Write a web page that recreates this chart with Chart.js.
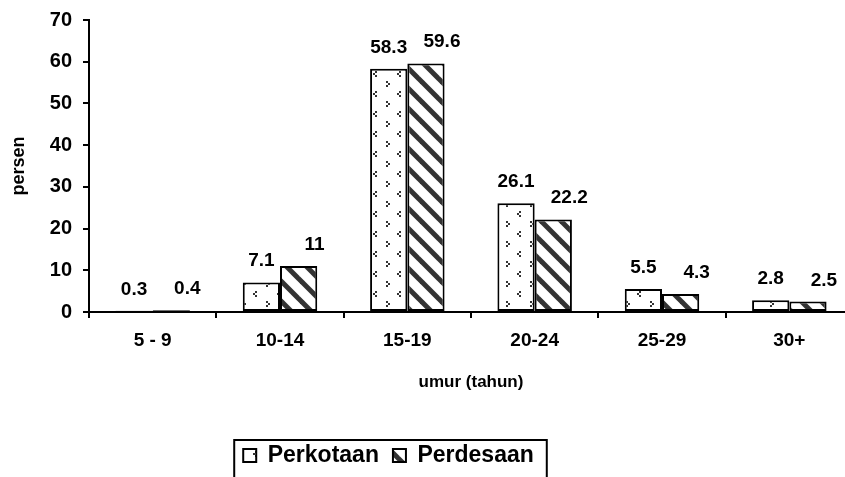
<!DOCTYPE html>
<html>
<head>
<meta charset="utf-8">
<script src="https://cdn.jsdelivr.net/npm/chart.js@4.4.1/dist/chart.umd.min.js"></script>
<style>
  html, body { margin: 0; padding: 0; background: #fff; overflow: hidden; }
  #wrap { width: 845px; height: 477px; overflow: hidden; position: relative; }
  canvas { display: block; }
</style>
</head>
<body>
<div id="wrap"><canvas id="c" width="860" height="477"></canvas></div>
<script>
// data
var AGE_GROUPS = ['5 - 9', '10-14', '15-19', '20-24', '25-29', '30+'];
var PERKOTAAN  = [0.3, 7.1, 58.3, 26.1, 5.5, 2.8];
var PERDESAAN  = [0.4, 11, 59.6, 22.2, 4.3, 2.5];
var Y_TICKS    = [0, 10, 20, 30, 40, 50, 60, 70];

var FONT = "'Liberation Sans', Arial, sans-serif";

// sparse "< >" mark pattern (Perkotaan)
function dotPattern(ctx) {
  var t = document.createElement('canvas');
  t.width = 24; t.height = 20;
  var g = t.getContext('2d');
  g.fillStyle = '#fff'; g.fillRect(0, 0, 24, 20);
  g.fillStyle = '#333';
  // "<"
  g.fillRect(15, 11, 2, 2); g.fillRect(13, 13, 2, 2); g.fillRect(15, 15, 2, 2);
  // ">"
  g.fillRect(2, 1, 2, 2); g.fillRect(4, 3, 2, 2); g.fillRect(2, 5, 2, 2);
  return ctx.createPattern(t, 'repeat');
}

// thick backslash stripes (Perdesaan)
function stripePattern(ctx) {
  var t = document.createElement('canvas');
  t.width = 20; t.height = 20;
  var g = t.getContext('2d');
  g.fillStyle = '#fff'; g.fillRect(0, 0, 20, 20);
  g.strokeStyle = '#333'; g.lineWidth = 5;
  for (var k = -1; k <= 1; k++) {
    g.beginPath();
    g.moveTo(-5, -5 + 20 * k); g.lineTo(25, 25 + 20 * k);
    g.stroke();
  }
  return ctx.createPattern(t, 'repeat');
}

Chart.defaults.font.family = FONT;
Chart.defaults.font.weight = 'bold';
Chart.defaults.color = '#000';

var canvas = document.getElementById('c');
var ctx = canvas.getContext('2d');
var CANVAS_H = 477, PLOT_BOTTOM = 312;

// value labels above each bar
var valueLabels = {
  id: 'valueLabels',
  afterDatasetsDraw: function (chart) {
    var c = chart.ctx;
    c.save();
    c.font = 'bold 19px ' + FONT;
    c.fillStyle = '#000';
    c.textAlign = 'center';
    c.textBaseline = 'alphabetic';
    chart.data.datasets.forEach(function (ds, di) {
      var meta = chart.getDatasetMeta(di);
      meta.data.forEach(function (bar, i) {
        var dx = di === 1 ? 16 : 0;
        c.fillText(String(ds.data[i]), bar.x + dx, bar.y - 16);
      });
    });
    c.restore();
  }
};

// shift the legend left and frame it like the original
var legendFrame = {
  id: 'legendFrame',
  afterLayout: function (chart) {
    var lg = chart.legend;
    lg.left -= 38; lg.right -= 38;
  },
  afterDraw: function (chart) {
    var lg = chart.legend;
    if (!lg || !lg.lineWidths) return;
    var p = lg.options.labels.padding;
    var lw = lg.lineWidths[0];
    var x0 = (lg.left + p + lg.right - lw) / 2;
    var c = chart.ctx;
    c.save();
    c.strokeStyle = '#000';
    c.lineWidth = 2;
    c.strokeRect(x0 - 9, lg.top + 10, (lw - p) + 22, 60);
    c.restore();
  }
};

new Chart(ctx, {
  type: 'bar',
  data: {
    labels: AGE_GROUPS,
    datasets: [
      { label: 'Perkotaan', data: PERKOTAAN, backgroundColor: dotPattern(ctx),
        borderColor: '#000', borderWidth: 2, borderSkipped: false },
      { label: 'Perdesaan', data: PERDESAAN, backgroundColor: stripePattern(ctx),
        borderColor: '#000', borderWidth: 2, borderSkipped: false }
    ]
  },
  options: {
    responsive: false,
    animation: false,
    devicePixelRatio: 1,
    layout: { padding: { left: 0, right: 7, top: 20, bottom: 0 } },
    datasets: { bar: { categoryPercentage: 0.585, barPercentage: 1.0 } },
    plugins: {
      tooltip: { enabled: false },
      legend: {
        position: 'bottom',
        labels: {
          boxWidth: 13, boxHeight: 13, padding: 14,
          font: { size: 23, weight: 'bold', family: FONT }, color: '#000'
        }
      }
    },
    scales: {
      x: {
        offset: true,
        grid: { display: true, offset: true, drawOnChartArea: false, drawTicks: true,
                tickLength: 6, color: '#000', lineWidth: 2 },
        border: { display: true, color: '#000', width: 2 },
        ticks: { font: { size: 19, weight: 'bold' }, color: '#000', padding: 11, maxRotation: 0 },
        title: { display: true, text: 'umur (tahun)', font: { size: 17, weight: 'bold' },
                 color: '#000', padding: { top: 4, bottom: 37 } },
        afterFit: function (s) { s.height = CANVAS_H - PLOT_BOTTOM - s.chart.legend.height; }
      },
      y: {
        min: 0, max: 70,
        afterBuildTicks: function (s) { s.ticks = Y_TICKS.map(function (v) { return { value: v }; }); },
        grid: { display: true, drawOnChartArea: false, drawTicks: true,
                tickLength: 6, color: '#000', lineWidth: 2 },
        border: { display: true, color: '#000', width: 2 },
        ticks: { font: { size: 20, weight: 'bold', lineHeight: 1 }, color: '#000', padding: 11 },
        title: { display: true, text: 'persen', font: { size: 18, weight: 'bold' },
                 color: '#000', padding: { top: 8, bottom: 0 } },
        afterFit: function (s) { s.width = 89; s.paddingTop = 0; }
      }
    }
  },
  plugins: [valueLabels, legendFrame]
});
</script>
</body>
</html>
